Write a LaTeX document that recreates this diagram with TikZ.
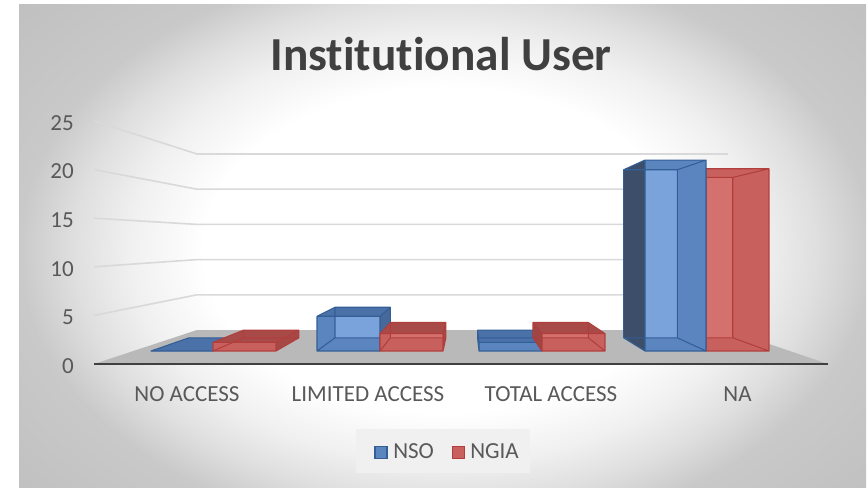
\documentclass[tikz,border=0pt]{standalone}
\usepackage{fontspec}
\setmainfont[Ligatures=NoCommon]{Carlito}
\usetikzlibrary{calc,positioning}
\definecolor{nsofront}{RGB}{91,133,191}
\definecolor{nsoback}{RGB}{121,163,218}
\definecolor{nsotop}{RGB}{74,113,168}
\definecolor{nsoleft}{RGB}{60,78,106}
\definecolor{nsoright}{RGB}{70,104,154}
\definecolor{nsoedge}{RGB}{52,94,150}
\definecolor{ngiafront}{RGB}{200,97,94}
\definecolor{ngiaback}{RGB}{212,112,109}
\definecolor{ngiatop}{RGB}{168,74,72}
\definecolor{ngialeft}{RGB}{158,70,68}
\definecolor{ngiaright}{RGB}{166,72,70}
\definecolor{ngiaedge}{RGB}{178,62,60}
\definecolor{floorgray}{RGB}{185,185,185}
\definecolor{gridgray}{RGB}{217,217,217}
\definecolor{axisdark}{RGB}{64,64,64}
\definecolor{labelgray}{RGB}{89,89,89}
\definecolor{glowa}{RGB}{255,255,255}
\definecolor{glowb}{RGB}{240,240,240}
\definecolor{glowc}{RGB}{223,223,223}
\definecolor{glowd}{RGB}{201,201,201}
\definecolor{glowe}{RGB}{192,192,192}
\pgfdeclareradialshading{chartglow}{\pgfpoint{0bp}{0bp}}{color(0bp)=(glowa); color(28bp)=(glowa); color(36.6bp)=(glowb); color(43bp)=(glowc); color(49.5bp)=(glowd); color(65bp)=(glowe); color(72bp)=(glowe)}
\tikzset{
  titletext/.style={font=\bfseries\fontsize{35.5}{40}\selectfont, text=axisdark, inner sep=0pt, anchor=base},
  axislabel/.style={font=\fontsize{17.25}{20}\selectfont, text=labelgray, inner sep=0pt},
  gridline/.style={draw=gridgray, line width=1.2pt},
  axisline/.style={draw=axisdark, line width=2pt},
  baredge/.style={line width=0.8pt, line join=round},
  legendkey/.style={minimum size=9pt, inner sep=0pt, line width=0.9pt}
}
% one 3d bar: front face left x, right x, value, series
\newcommand{\chartbar}[4]{%
  \pgfmathsetmacro{\bartop}{351-8.68*#3}%
  \coordinate (fbl) at (#1,351);
  \coordinate (fbr) at (#2,351);
  \coordinate (ftl) at (#1,\bartop);
  \coordinate (ftr) at (#2,\bartop);
  \foreach \corner in {bl,br,tl,tr}
    \coordinate (b\corner) at ($(vp)!0.88!(f\corner)$);
  \fill[#4front] (fbl) rectangle (ftr);
  \fill[#4back] (bbl) rectangle (btr);
  \ifdim\bartop pt>241pt
    \fill[#4top] (ftl) -- (ftr) -- (btr) -- (btl) -- cycle;
  \fi
  \ifdim#2pt<467pt
    \fill[#4right] (fbr) -- (ftr) -- (btr) -- (bbr) -- cycle;
  \else
    \fill[#4left] (fbl) -- (ftl) -- (btl) -- (bbl) -- cycle;
  \fi
  \draw[baredge,#4edge] (bbl) rectangle (btr) (fbl) -- (bbl) (fbr) -- (bbr)
    (ftl) -- (btl) (ftr) -- (btr) (fbl) rectangle (ftr);
}
\begin{document}
\begin{tikzpicture}[x=0.75pt,y=-0.75pt]
  \useasboundingbox (0,0) rectangle (867,488);
  \fill[white] (0,0) rectangle (867,488);
  % chart area
  \begin{scope}
    \clip (19,5) rectangle (866,488);
    \pgftransformshift{\pgfpointxy{445}{250}}
    \pgftransformxscale{6.45}
    \pgftransformyscale{4.35}
    \pgflowlevelsynccm
    \pgfuseshading{chartglow}
  \end{scope}
  \node[titletext] (title) at (441,71) {Institutional User};
  \coordinate (vp) at (467,241);
  % walls and floor
  \foreach \v in {5,10,...,25}
    \draw[gridline] (94,364-9.72*\v) -- (197,330-7.04*\v) -- (728,330-7.04*\v);
  \fill[floorgray] (94,364) -- (197,330) -- (728,330) -- (828,364) -- cycle;
  \draw[axisline] (94,364) -- (828,364);
  \foreach \v in {0,5,...,25}
    \node[axislabel, anchor=east] (tick\v) at (74,366-9.72*\v) {\v};
  % bars
  \chartbar{151}{213}{0}{nso}
  \chartbar{213}{276}{1}{ngia}
  \chartbar{317}{380}{4}{nso}
  \chartbar{380}{443}{2}{ngia}
  \chartbar{479}{542}{1}{nso}
  \chartbar{542}{605}{2}{ngia}
  \chartbar{706}{769}{21}{ngia}
  \chartbar{645}{706}{22}{nso}
  % categories
  \node[axislabel, anchor=base] (catno) at (187,401) {NO ACCESS};
  \node[axislabel, anchor=base] (catlimited) at (368,401) {LIMITED ACCESS};
  \node[axislabel, anchor=base] (cattotal) at (551,401) {TOTAL ACCESS};
  \node[axislabel, anchor=base] (catna) at (737.5,401) {NA};
  % legend
  \node[fill=black!6, minimum width=130.5pt, minimum height=33pt] (legend) at (443,451) {};
  \node[legendkey, fill=nsofront, draw=nsoedge] (keynso) at (381,452.5) {};
  \node[axislabel, anchor=base west] (labnso) at (393,458.5) {NSO};
  \node[legendkey, fill=ngiafront, draw=ngiaedge] (keyngia) at (458.5,452.5) {};
  \node[axislabel, anchor=base west] (labngia) at (470,458.5) {NGIA};
\end{tikzpicture}
\end{document}
